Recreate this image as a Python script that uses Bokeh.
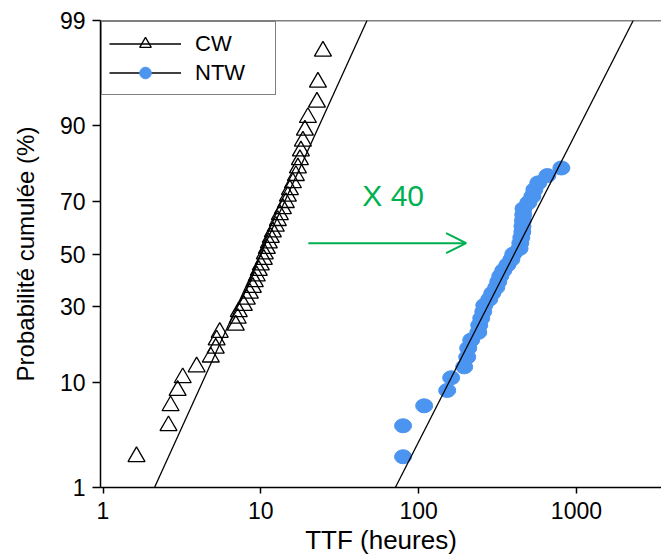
import math
from bokeh.plotting import figure
from bokeh.models import (FixedTicker, CustomJSTickFormatter, Legend, LegendItem,
                          Arrow, OpenHead, Span, Label, Range1d)
from bokeh.embed import file_html
from bokeh.resources import INLINE

# ---------------- data ----------------
cw_ttf = [1.63, 2.60, 2.68, 2.97, 3.20, 3.92, 4.82, 5.18, 5.25, 5.49,
          6.94, 7.14, 7.25, 7.80, 8.15, 8.52, 8.90, 9.16, 9.43, 9.71,
          10.0, 10.45, 10.60, 10.92, 11.24, 11.57, 11.92, 12.45, 12.82, 13.20,
          13.80, 14.41, 14.84, 15.29, 15.97, 16.68, 17.18, 17.69, 17.95, 18.48,
          19.03, 19.88, 22.68, 23.01, 24.76]
cw_pct = [2.17, 4.35, 6.52, 8.70, 10.87, 13.04, 15.22, 17.39, 19.57, 21.74,
          23.91, 26.09, 28.26, 30.43, 32.61, 34.78, 36.96, 39.13, 41.30, 43.48,
          45.65, 47.83, 50.00, 52.17, 54.35, 56.52, 58.70, 60.87, 63.04, 65.22,
          67.39, 69.57, 71.74, 73.91, 76.09, 78.26, 80.43, 82.61, 84.78, 86.96,
          89.13, 91.30, 93.48, 95.65, 97.83]

ntw_ttf = [79.7, 79.7, 108.4, 151.7, 160.8, 194.5, 203.2, 206.2, 215.4, 238.7,
           242.2, 249.4, 256.8, 260.6, 280.4, 292.9, 310.5, 319.7, 329.2, 344.0,
           364.8, 386.7, 398.1, 436.0, 441.0, 447.5, 454.1, 455.0, 458.0, 460.0,
           462.0, 495.8, 525.6, 541.2, 573.8, 654.5, 803.0]
ntw_pct = [2.17, 4.35, 6.52, 8.70, 10.87, 13.04, 15.22, 17.39, 19.57, 21.74,
           23.91, 26.09, 28.26, 30.43, 32.61, 34.78, 36.96, 39.13, 41.30, 43.48,
           45.65, 47.83, 50.00, 52.17, 54.35, 56.52, 58.70, 60.87, 63.04, 65.22,
           67.39, 69.57, 71.74, 73.91, 76.09, 78.26, 80.43]

fit_pct = [1, 99]
cw_fit_ttf = [2.12, 47.1]
ntw_fit_ttf = [71.2, 2291.0]

y_tick_pct = [1, 10, 30, 50, 70, 90, 99]
x_tick_vals = [1, 10, 100, 1000]

arrow_ttf = [20, 200]
arrow_pct = 54.3
note_text = "X 40"
note_ttf = 69
note_pct = 72

series_names = ["CW", "NTW"]
x_title = "TTF (heures)"
y_title = "Probabilité cumulée (%)"


# ---------------- probability (normal) scale ----------------
def ncdf(z):
    return 0.5 * (1.0 + math.erf(z / math.sqrt(2.0)))


def probit(p):
    lo, hi = -10.0, 10.0
    for _ in range(200):
        mid = 0.5 * (lo + hi)
        if ncdf(mid) < p:
            lo = mid
        else:
            hi = mid
    return 0.5 * (lo + hi)


def zs(pcts):
    return [probit(v / 100.0) for v in pcts]


FONT = "Liberation Sans"
BLUE = "#4B94F0"
GREEN = "#00B050"

p = figure(width=661, height=558, x_axis_type="log",
           x_range=Range1d(0.964, 3460), y_range=Range1d(probit(0.01), probit(0.99)),
           output_backend="svg", toolbar_location=None,
           min_border_left=100, min_border_top=20, min_border_right=0, min_border_bottom=71)
p.grid.visible = False
p.outline_line_color = None
p.background_fill_color = "white"
p.border_fill_color = "white"

# top spine
p.add_layout(Span(location=probit(0.99), dimension="width", line_color="black", line_width=1.5))

# data
p.ellipse(x=ntw_ttf, y=zs(ntw_pct), width=17, height=14, width_units="screen",
          height_units="screen", fill_color=BLUE, line_color=BLUE)
p.scatter(x=cw_ttf, y=zs(cw_pct), marker="triangle", size=17, line_color="black",
          line_width=1.3, fill_color=None)
p.line(x=cw_fit_ttf, y=zs(fit_pct), line_color="black", line_width=1.3)
p.line(x=ntw_fit_ttf, y=zs(fit_pct), line_color="black", line_width=1.3)

# annotation
za = probit(arrow_pct / 100.0)
p.add_layout(Arrow(x_start=arrow_ttf[0], y_start=za, x_end=arrow_ttf[1], y_end=za,
                   line_color=GREEN, line_width=2,
                   end=OpenHead(size=20, line_color=GREEN, line_width=2)))
p.add_layout(Label(x=note_ttf, y=probit(note_pct / 100.0), text=note_text,
                   text_align="center", text_baseline="middle", text_color=GREEN,
                   text_font=FONT, text_font_size="30px"))

# legend (proxy renderers placed outside the visible range)
far_x = [1e7, 2e7]
far_y = [0.0, 0.0]
cw_l = p.line(x=far_x, y=far_y, line_color="black", line_width=1.3)
cw_m = p.scatter(x=far_x[:1], y=far_y[:1], marker="triangle", line_color="black",
                 line_width=1.3, fill_color=None)
nt_l = p.line(x=far_x, y=far_y, line_color="black", line_width=1.3)
nt_m = p.scatter(x=far_x[:1], y=far_y[:1], marker="circle", line_color=BLUE, fill_color=BLUE)
legend = Legend(items=[LegendItem(label=series_names[0], renderers=[cw_l, cw_m]),
                       LegendItem(label=series_names[1], renderers=[nt_l, nt_m])],
                location="top_left", margin=1, padding=7, spacing=0,
                glyph_width=72, glyph_height=29, label_height=29, label_width=73,
                label_standoff=14, label_text_font=FONT, label_text_font_size="22px",
                label_text_color="black",
                border_line_color="black", border_line_width=1.5,
                background_fill_color="white", background_fill_alpha=1.0)
p.add_layout(legend)

# axes
tick_z = zs(y_tick_pct)
p.yaxis.ticker = FixedTicker(ticks=tick_z)
p.yaxis.formatter = CustomJSTickFormatter(
    args=dict(tvals=tick_z, tlabels=[str(v) for v in y_tick_pct]),
    code="""
    let best = 0, bd = 1e9;
    for (let i = 0; i < tvals.length; i++) {
        const d = Math.abs(tvals[i] - tick);
        if (d < bd) { bd = d; best = i; }
    }
    return tlabels[best];
    """)
p.xaxis.ticker = FixedTicker(ticks=x_tick_vals)
p.xaxis.formatter = CustomJSTickFormatter(code="return String(Math.round(tick));")

for ax in (p.xaxis[0], p.yaxis[0]):
    ax.minor_tick_line_color = None
    ax.major_tick_in = 0
    ax.axis_line_color = "black"
    ax.axis_line_width = 1.5
    ax.major_tick_line_color = "black"
    ax.major_tick_line_width = 1.5
    ax.major_label_text_font = FONT
    ax.major_label_text_font_size = "23px"
    ax.major_label_text_color = "black"
    ax.axis_label_text_font = FONT
    ax.axis_label_text_font_style = "normal"
    ax.axis_label_text_color = "black"

p.xaxis.major_tick_out = 6
p.xaxis.major_label_standoff = 8
p.xaxis.axis_label = x_title
p.xaxis.axis_label_text_font_size = "26px"
p.xaxis.axis_label_standoff = 3

p.yaxis.major_tick_out = 8
p.yaxis.major_label_standoff = 7
p.yaxis.axis_label = y_title
p.yaxis.axis_label_text_font_size = "24px"
p.yaxis.axis_label_standoff = 18

open("out.html", "w").write(file_html(p, INLINE))
